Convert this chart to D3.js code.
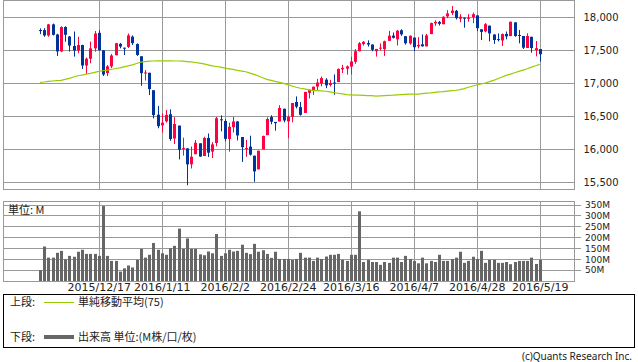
<!DOCTYPE html>
<html>
<head>
<meta charset="utf-8">
<script src="https://cdnjs.cloudflare.com/ajax/libs/d3/7.8.5/d3.min.js"></script>
<style>
body { margin: 0; background: #fff; }
svg text { font-family: "DejaVu Sans", sans-serif; fill: #222; }
svg .jp { font-family: "Noto Sans CJK JP", sans-serif; }
</style>
</head>
<body>
<svg id="chart" width="638" height="362"></svg>
<script>
// trading days, 2015/11/27 .. 2016/5/19
var days = [
  "2015/11/27", "2015/11/30",
  "2015/12/1", "2015/12/2", "2015/12/3", "2015/12/4", "2015/12/7", "2015/12/8", "2015/12/9", "2015/12/10",
  "2015/12/11", "2015/12/14", "2015/12/15", "2015/12/16", "2015/12/17", "2015/12/18", "2015/12/21", "2015/12/22",
  "2015/12/23", "2015/12/24", "2015/12/28", "2015/12/29", "2015/12/30", "2015/12/31",
  "2016/1/4", "2016/1/5", "2016/1/6", "2016/1/7", "2016/1/8", "2016/1/11", "2016/1/12", "2016/1/13", "2016/1/14",
  "2016/1/15", "2016/1/19", "2016/1/20", "2016/1/21", "2016/1/22", "2016/1/25", "2016/1/26", "2016/1/27",
  "2016/1/28", "2016/1/29",
  "2016/2/1", "2016/2/2", "2016/2/3", "2016/2/4", "2016/2/5", "2016/2/8", "2016/2/9", "2016/2/10", "2016/2/11",
  "2016/2/12", "2016/2/16", "2016/2/17", "2016/2/18", "2016/2/19", "2016/2/22", "2016/2/23", "2016/2/24",
  "2016/2/25", "2016/2/26", "2016/2/29",
  "2016/3/1", "2016/3/2", "2016/3/3", "2016/3/4", "2016/3/7", "2016/3/8", "2016/3/9", "2016/3/10", "2016/3/11",
  "2016/3/14", "2016/3/15", "2016/3/16", "2016/3/17", "2016/3/18", "2016/3/21", "2016/3/22", "2016/3/23",
  "2016/3/24", "2016/3/28", "2016/3/29", "2016/3/30", "2016/3/31",
  "2016/4/1", "2016/4/4", "2016/4/5", "2016/4/6", "2016/4/7", "2016/4/8", "2016/4/11", "2016/4/12", "2016/4/13",
  "2016/4/14", "2016/4/15", "2016/4/18", "2016/4/19", "2016/4/20", "2016/4/21", "2016/4/22", "2016/4/25",
  "2016/4/26", "2016/4/27", "2016/4/28", "2016/4/29",
  "2016/5/2", "2016/5/3", "2016/5/4", "2016/5/5", "2016/5/6", "2016/5/9", "2016/5/10", "2016/5/11", "2016/5/12",
  "2016/5/13", "2016/5/16", "2016/5/17", "2016/5/18", "2016/5/19"
];

var opens = [17802,17802,17720,17888,17735,17478,17848,17705,17560,17493,
  17575,17265,17368,17525,17760,17495,17150,17252,17420,17593,
  17535,17547,17702,17590,17405,17147,17155,16890,16519,16358,
  16419,16526,16159,16354,16009,16009,15768,15921,16086,15893,
  16168,15960,16090,16450,16424,16152,16331,16417,16181,16005,
  16035,15898,15691,15994,16210,16484,16410,16417,16610,16418,
  16486,16712,16634,16546,16851,16896,16946,16991,17050,16969,
  17006,17014,17207,17217,17249,17321,17481,17589,17605,17583,
  17481,17526,17512,17639,17718,17662,17799,17710,17599,17688,
  17555,17586,17555,17741,17905,17925,17890,18009,18060,18093,
  17975,17990,17973,17996,18024,17814,17783,17869,17735,17665,
  17645,17743,17711,17919,17727,17712,17531,17700,17500,17514];

var highs = [17828,17830,17895,17900,17745,17860,17860,17710,17780,17700,
  17580,17385,17626,17788,17800,17495,17273,17440,17607,17606,
  17535,17750,17720,17600,17405,17195,17155,16890,16652,16540,
  16590,16600,16482,16354,16171,16009,16038,16136,16086,16185,
  16235,16103,16486,16510,16450,16400,16487,16423,16181,16136,
  16201,15900,15974,16203,16480,16511,16410,16664,16610,16505,
  16697,16796,16711,16865,16899,16944,17062,17099,17072,17048,
  17130,17220,17275,17265,17399,17513,17620,17636,17646,17583,
  17516,17600,17642,17790,17765,17803,17814,17710,17720,17688,
  17695,17735,17744,17915,17950,17941,18009,18103,18168,18107,
  18041,17990,18043,18067,18029,17814,17908,17869,17737,17750,
  17750,17780,17930,17919,17803,17712,17753,17700,17636,17514];

var lows = [17740,17700,17700,17720,17410,17470,17626,17475,17400,17449,
  17212,17138,17298,17475,17490,17106,17106,17225,17420,17525,
  17424,17530,17576,17410,16957,17038,16817,16463,16314,16250,
  16400,16123,16075,15842,15900,15451,15704,15921,15881,15893,
  15878,15863,16040,16267,16117,15960,16249,16129,15803,15881,
  15900,15503,15691,15994,16210,16374,16278,16417,16404,16165,
  16405,16614,16506,16546,16766,16820,16880,16949,16921,16947,
  16821,17014,17152,17127,17130,17290,17481,17567,17551,17481,
  17400,17495,17410,17639,17674,17568,17714,17582,17580,17484,
  17524,17551,17555,17741,17867,17870,17890,17982,18030,17963,
  17920,17838,17929,17906,17787,17651,17767,17630,17592,17630,
  17560,17661,17711,17700,17601,17516,17531,17460,17404,17323];

var closes = [17798,17720,17888,17730,17478,17848,17730,17568,17492,17575,
  17265,17368,17525,17749,17496,17128,17252,17417,17603,17552,
  17528,17721,17604,17425,17149,17159,16907,16514,16346,16399,
  16516,16151,16379,15988,16016,15767,15883,16094,15885,16167,
  15944,16070,16466,16449,16154,16337,16417,16205,16027,16014,
  15915,15660,15974,16196,16454,16413,16392,16621,16432,16485,
  16697,16640,16517,16865,16899,16944,17007,17074,16964,17000,
  16995,17213,17229,17252,17326,17481,17602,17624,17583,17503,
  17516,17535,17633,17717,17685,17793,17737,17603,17716,17542,
  17577,17556,17721,17908,17926,17897,18004,18054,18096,17983,
  18004,17977,17990,18042,17831,17774,17891,17751,17651,17661,
  17741,17706,17928,17711,17721,17535,17711,17530,17527,17436];

// 75 day simple moving average
var ma75 = [17010,17015,17025,17030,17035,17040,17055,17070,17090,17110,
  17120,17135,17145,17160,17175,17185,17195,17205,17220,17230,
  17245,17260,17275,17295,17315,17325,17330,17333,17335,17335,
  17335,17335,17333,17333,17330,17325,17320,17310,17300,17290,
  17275,17260,17250,17240,17225,17215,17205,17190,17180,17170,
  17150,17130,17105,17080,17055,17040,17025,17010,16995,16975,
  16955,16935,16920,16910,16895,16885,16885,16880,16875,16865,
  16855,16845,16835,16825,16820,16815,16815,16812,16810,16808,
  16800,16805,16810,16812,16815,16820,16825,16828,16830,16830,
  16832,16838,16845,16850,16858,16865,16870,16878,16885,16890,
  16900,16915,16935,16955,16970,16985,17000,17020,17040,17065,
  17090,17115,17135,17155,17175,17195,17215,17240,17262,17283];

// volume, millions
var volumes = [50,158,107,107,129,138,100,115,111,134,
  143,124,124,124,115,343,115,92,92,43,
  58,71,62,97,147,107,120,174,143,127,
  120,150,161,240,147,195,147,147,122,118,
  135,127,215,115,127,143,135,138,166,129,
  123,170,134,141,124,106,134,101,101,101,
  97,101,129,107,107,92,107,101,112,120,
  120,124,97,92,120,120,319,87,97,87,
  87,74,87,83,107,107,87,115,101,92,
  81,107,81,92,87,120,92,92,101,107,
  134,83,92,111,101,138,83,97,97,83,
  83,87,77,87,92,92,92,107,78,97];

var priceTicks = [15500, 16000, 16500, 17000, 17500, 18000];
var volTicks = [50, 100, 150, 200, 250, 300, 350];
var tickLabels = ["2015/12/17", "2016/1/11", "2016/2/2", "2016/2/24", "2016/3/16", "2016/4/7", "2016/4/28", "2016/5/19"];

var UP = '#ff0040', DOWN = '#003399', GRID = '#999999';

var svg = d3.select('#chart');
var left = 3.5, right = 574.5;

var x = d3.scaleLinear().domain([0, days.length - 1]).range([40, 539.8]);
var y = d3.scaleLinear().domain([15386, 18250]).range([189.5, 0.5]);
var yv = d3.scaleLinear().domain([0, 364]).range([281, 201.5]);

var tickIdx = tickLabels.map(function (t) { return days.indexOf(t); });

var styleGrid = function (g) {
  g.select('.domain').remove();
  g.selectAll('.tick line').attr('stroke', GRID).attr('shape-rendering', 'crispEdges');
};

// ---- upper panel: price
svg.append('g')
  .attr('transform', 'translate(' + right + ',0)')
  .call(d3.axisRight(y).tickValues(priceTicks).tickSize(-(right - left)).tickPadding(9)
    .tickFormat(d3.format(',')))
  .call(styleGrid)
  .call(function (g) { g.selectAll('text').style('font-size', '10px').attr('fill', '#222'); });

svg.append('g')
  .attr('transform', 'translate(0,189.5)')
  .call(d3.axisBottom(x).tickValues(tickIdx).tickSize(-189).tickFormat(''))
  .call(styleGrid);

svg.append('rect')
  .attr('x', left).attr('y', 0.5).attr('width', right - left).attr('height', 189)
  .attr('fill', 'none').attr('stroke', GRID).attr('shape-rendering', 'crispEdges');

var candles = svg.append('g').attr('class', 'candles')
  .selectAll('g')
  .data(days)
  .enter()
  .append('g');

candles.append('line')
  .attr('x1', function (d, i) { return Math.round(x(i)) + 0.5; })
  .attr('x2', function (d, i) { return Math.round(x(i)) + 0.5; })
  .attr('y1', function (d, i) { return y(highs[i]); })
  .attr('y2', function (d, i) { return y(lows[i]); })
  .attr('stroke', function (d, i) { return closes[i] >= opens[i] ? UP : DOWN; })
  .attr('stroke-width', 1);

candles.append('rect')
  .attr('x', function (d, i) { return Math.round(x(i)) - 1; })
  .attr('width', 3)
  .attr('y', function (d, i) { return y(Math.max(opens[i], closes[i])); })
  .attr('height', function (d, i) {
    return Math.max(1, Math.abs(y(opens[i]) - y(closes[i])));
  })
  .attr('fill', function (d, i) { return closes[i] >= opens[i] ? UP : DOWN; });

svg.append('path')
  .datum(ma75)
  .attr('fill', 'none')
  .attr('stroke', '#99cc00')
  .attr('stroke-width', 1.2)
  .attr('d', d3.line()
    .x(function (d, i) { return x(i); })
    .y(function (d) { return y(d); }));

// ---- lower panel: volume
svg.append('g')
  .attr('transform', 'translate(581,0)')
  .call(d3.axisRight(yv).tickValues(volTicks).tickSize(-(581 - left)).tickPadding(4)
    .tickFormat(function (d) { return d + 'M'; }))
  .call(styleGrid)
  .call(function (g) { g.selectAll('text').style('font-size', '9px').attr('fill', '#222'); });

svg.append('g')
  .attr('transform', 'translate(0,281)')
  .call(d3.axisBottom(x).tickValues(tickIdx).tickSize(-80).tickPadding(2)
    .tickFormat(function (i) { return days[i]; }))
  .call(styleGrid)
  .call(function (g) { g.selectAll('text').style('font-size', '11px').attr('fill', '#222'); });

svg.append('rect')
  .attr('x', left).attr('y', 201.5).attr('width', right - left).attr('height', 79.5)
  .attr('fill', 'none').attr('stroke', GRID).attr('shape-rendering', 'crispEdges');

svg.append('g').attr('class', 'volume')
  .selectAll('rect')
  .data(volumes)
  .enter()
  .append('rect')
  .attr('x', function (d, i) { return Math.round(x(i)) - 1; })
  .attr('width', 3)
  .attr('y', function (d) { return yv(d); })
  .attr('height', function (d) { return yv(0) - yv(d); })
  .attr('fill', '#666666');

svg.append('text').attr('class', 'jp')
  .attr('x', 8).attr('y', 214).style('font-size', '11px')
  .text('単位: M');

// ---- legend
svg.append('rect')
  .attr('x', 3.5).attr('y', 294.5).attr('width', 631).attr('height', 53)
  .attr('fill', 'none').attr('stroke', '#000').attr('shape-rendering', 'crispEdges');

svg.append('text').attr('class', 'jp').attr('x', 10).attr('y', 306).style('font-size', '11px').text('上段:');
svg.append('line').attr('x1', 44).attr('x2', 74).attr('y1', 302.5).attr('y2', 302.5)
  .attr('stroke', '#99cc00').attr('stroke-width', 1);
svg.append('text').attr('class', 'jp').attr('x', 78).attr('y', 306).style('font-size', '11px').text('単純移動平均(75)');

svg.append('text').attr('class', 'jp').attr('x', 10).attr('y', 341).style('font-size', '11px').text('下段:');
svg.append('line').attr('x1', 44).attr('x2', 74).attr('y1', 337).attr('y2', 337)
  .attr('stroke', '#666666').attr('stroke-width', 4);
svg.append('text').attr('class', 'jp').attr('x', 78).attr('y', 341).style('font-size', '11px').text('出来高 単位:(M株/口/枚)');

svg.append('text')
  .attr('x', 632).attr('y', 360).attr('text-anchor', 'end')
  .style('font-family', '"Noto Sans", sans-serif').style('font-size', '10px')
  .text('(c)Quants Research Inc.');
</script>
</body>
</html>
